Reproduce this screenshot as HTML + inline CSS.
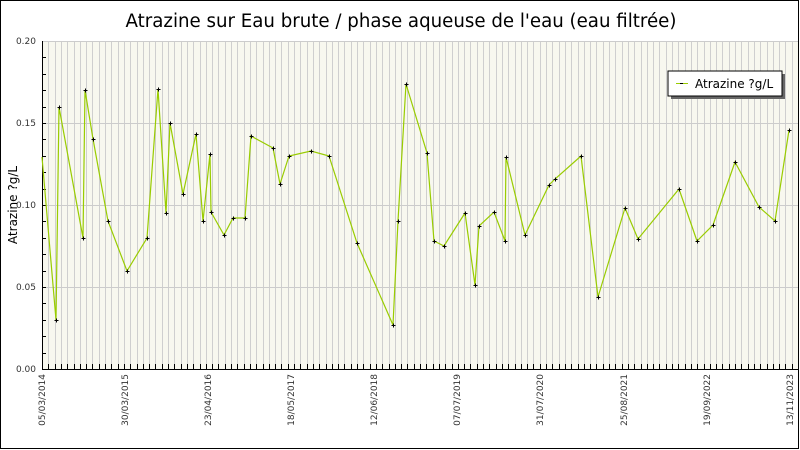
<!DOCTYPE html>
<html><head><meta charset="utf-8"><style>
html,body{margin:0;padding:0;background:#fff}
svg{display:block}
text{font-family:"DejaVu Sans","Liberation Sans",sans-serif}
</style></head><body>
<svg width="800" height="450" viewBox="0 0 800 450" xmlns="http://www.w3.org/2000/svg">
<rect x="0.5" y="0.5" width="798" height="448" fill="#fff" stroke="#000" stroke-width="1"/>
<text x="401" y="27" font-size="18.2" text-anchor="middle" fill="#000">Atrazine sur Eau brute / phase aqueuse de l'eau (eau filtrée)</text>
<rect x="42" y="41" width="756" height="328" fill="#f8f8ef"/>
<g id="vg" stroke="#cfcfcf" stroke-width="1"></g>
<g stroke="#cccccc" stroke-width="1">
<line x1="42" y1="41.5" x2="798" y2="41.5"/><line x1="42" y1="123.5" x2="798" y2="123.5"/><line x1="42" y1="205.5" x2="798" y2="205.5"/><line x1="42" y1="287.5" x2="798" y2="287.5"/>
</g>
<g id="tk" stroke="#000" stroke-width="1"></g>
<line x1="42.5" y1="41" x2="42.5" y2="369" stroke="#000"/>
<line x1="42" y1="369.5" x2="798" y2="369.5" stroke="#000"/>
<g font-size="9" fill="#333" text-anchor="end">
<text x="36" y="44">0.20</text><text x="36" y="126">0.15</text><text x="36" y="208">0.10</text><text x="36" y="290">0.05</text><text x="36" y="372">0.00</text>
</g>
<text transform="translate(17,205) rotate(-90)" font-size="12" text-anchor="middle" fill="#000">Atrazine ?g/L</text>
<g font-size="9" fill="#333" text-anchor="end">
<text transform="translate(45,374) rotate(-90)">05/03/2014</text>
<text transform="translate(128,374) rotate(-90)">30/03/2015</text>
<text transform="translate(211,374) rotate(-90)">23/04/2016</text>
<text transform="translate(294,374) rotate(-90)">18/05/2017</text>
<text transform="translate(377,374) rotate(-90)">12/06/2018</text>
<text transform="translate(460,374) rotate(-90)">07/07/2019</text>
<text transform="translate(543,374) rotate(-90)">31/07/2020</text>
<text transform="translate(627,374) rotate(-90)">25/08/2021</text>
<text transform="translate(710,374) rotate(-90)">19/09/2022</text>
<text transform="translate(793,374) rotate(-90)">13/11/2023</text>
</g>
<polyline id="ln" fill="none" stroke="#99cc00" stroke-width="1.2" points="42,157 56,320 59,107 83,238 85,90 93,139 108,221 127,271 147,238 158,89 166,213 170,123 183,194 196,134 203,221 210,154 211,212 224,235 233,218 245,218 251,136 273,148 280,184 289,156 311,151 329,156 357,243 393,325 398,221 406,84 427,153 434,241 444,246 465,213 475,285 479,226 494,212 505,241 506,157 525,235 549,185 555,179 581,156 598,297 625,208 638,239 679,189 697,241 713,225 735,162 759,207 775,221 789,130"/>
<g id="mk" stroke="#000" stroke-width="1"></g>
<rect x="671" y="74" width="114" height="25" fill="#666"/>
<rect x="668" y="71" width="114" height="25" fill="#fff" stroke="#000"/>
<line x1="676" y1="83.5" x2="688" y2="83.5" stroke="#99cc00"/>
<line x1="680" y1="83.5" x2="683" y2="83.5" stroke="#000"/>
<text x="695" y="88" font-size="12" fill="#000">Atrazine ?g/L</text>
</svg>
<script>
var ns="http://www.w3.org/2000/svg";
function L(g,x1,y1,x2,y2){var l=document.createElementNS(ns,"line");l.setAttribute("x1",x1);l.setAttribute("y1",y1);l.setAttribute("x2",x2);l.setAttribute("y2",y2);document.getElementById(g).appendChild(l);}
for(var i=1;i<120;i++){var x=Math.round(42+i*6.3)+0.5;L("vg",x,41,x,369);L("tk",x,364,x,369);}
for(var j=1;j<20;j++){var y=Math.round(369-j*16.4)+0.5;L("tk",42,y,46,y);}
var p=document.getElementById("ln").getAttribute("points").trim().split(/\s+/);
for(var k=1;k<p.length;k++){var c=p[k].split(",");var x=+c[0]+0.5,y=+c[1]+0.5;L("mk",x-2,y,x+2,y);L("mk",x,y-2,x,y+2);}
</script>
</body></html>
